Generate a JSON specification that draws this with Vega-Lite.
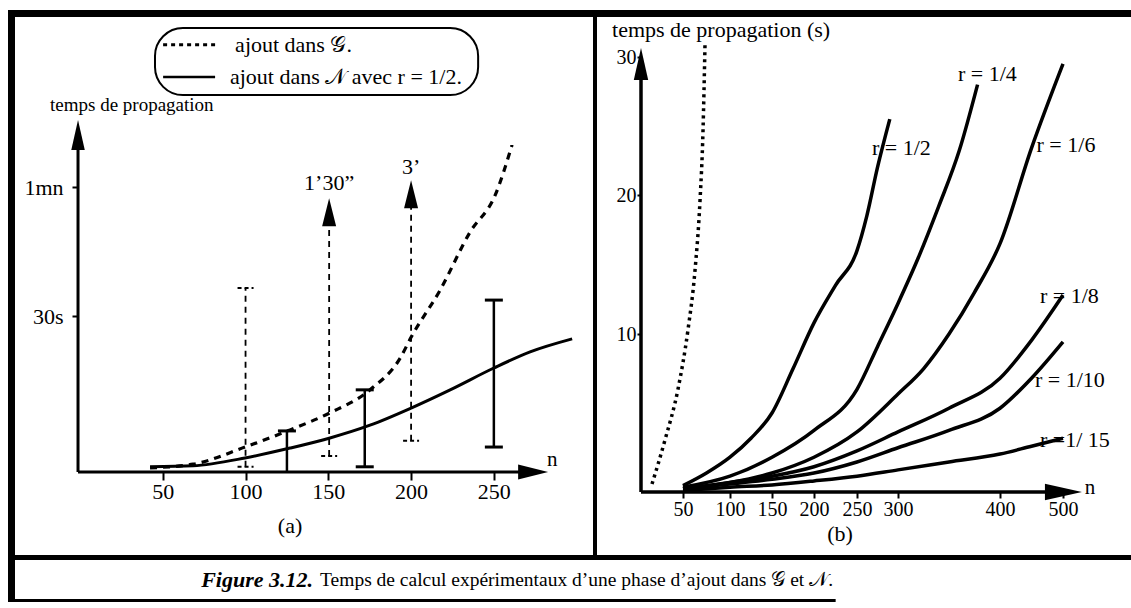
{
"$schema":"https://vega.github.io/schema/vega-lite/v6.json",
"padding":{"left":8,"top":10,"right":0,"bottom":6},
"spacing":0,
"background":"white",
"config":{"view":{"stroke":null},"font":"Liberation Serif","text":{"font":"Liberation Serif","color":"black"},
 "axis":{"grid":false,"domain":false,"labelFont":"Liberation Serif","labelColor":"black","tickColor":"black","title":null,"labelFontSize":20,"tickWidth":2,"labelOverlap":false,"labelFlush":false,"labelBound":false}},
"datasets":{
 "a_G":[{"n":42.3,"s":0.8},{"n":68.3,"s":1.5},{"n":99.7,"s":4.8},{"n":126.9,"s":8.1},{"n":150.5,"s":11.3},{"n":175.2,"s":15.8},{"n":193.4,"s":21.9},{"n":200,"s":25.9},{"n":217.5,"s":36},{"n":235.6,"s":49.5},{"n":250.8,"s":58.1},{"n":261,"s":69.8}],
 "a_N":[{"n":42.3,"s":1},{"n":68.3,"s":1.2},{"n":99.7,"s":2.7},{"n":126.9,"s":4.6},{"n":150.5,"s":6.5},{"n":175.2,"s":9},{"n":200,"s":12.3},{"n":223.6,"s":15.8},{"n":250,"s":20},{"n":271.9,"s":23.1},{"n":297.3,"s":25.6}],
 "a_solidBars":[{"n":125,"lo":0,"hi":7.9},{"n":172,"lo":1,"hi":15.8},{"n":250,"lo":4.8,"hi":33.7}],
 "a_solidCaps":[{"n":125,"v":7.9},{"n":172,"v":1},{"n":172,"v":15.8},{"n":250,"v":4.8},{"n":250,"v":33.7}],
 "a_dashBars":[{"n":100,"lo":1,"hi":36.5},{"n":150.5,"lo":3.1,"hi":50.9},{"n":200,"lo":6,"hi":55.1}],
 "a_dashCaps":[{"n":100,"v":1},{"n":100,"v":36.5},{"n":150.5,"v":3.1},{"n":200,"v":6}],
 "a_arrows":[{"n":150.5,"v":57.4},{"n":200,"v":61.6}],
 "b_G":[{"n":13.1,"s":0.5},{"n":28.6,"s":3.3},{"n":44,"s":6.5},{"n":55.3,"s":10.3},{"n":62.8,"s":14.6},{"n":68.1,"s":19.6},{"n":71.3,"s":24.7},{"n":73.4,"s":30.9}],
 "b_r":[
  {"r":"1/2","n":50,"s":0.4},{"r":"1/2","n":75,"s":1.2},{"r":"1/2","n":100,"s":2.2},{"r":"1/2","n":125,"s":3.4},{"r":"1/2","n":150,"s":5},{"r":"1/2","n":175,"s":7.8},{"r":"1/2","n":200,"s":10.8},{"r":"1/2","n":225,"s":13.5},{"r":"1/2","n":250,"s":16},{"r":"1/2","n":262,"s":18.5},{"r":"1/2","n":275,"s":22},{"r":"1/2","n":290,"s":25.5},
  {"r":"1/4","n":50,"s":0.3},{"r":"1/4","n":100,"s":1.0},{"r":"1/4","n":150,"s":2.2},{"r":"1/4","n":200,"s":3.9},{"r":"1/4","n":250,"s":6.5},{"r":"1/4","n":275,"s":9.2},{"r":"1/4","n":300,"s":12.2},{"r":"1/4","n":320,"s":15.5},{"r":"1/4","n":340,"s":19.2},{"r":"1/4","n":360,"s":23.2},{"r":"1/4","n":378,"s":28},
  {"r":"1/6","n":50,"s":0.2},{"r":"1/6","n":100,"s":0.6},{"r":"1/6","n":150,"s":1.2},{"r":"1/6","n":200,"s":2.2},{"r":"1/6","n":250,"s":3.8},{"r":"1/6","n":300,"s":6.2},{"r":"1/6","n":325,"s":7.8},{"r":"1/6","n":350,"s":10},{"r":"1/6","n":375,"s":13},{"r":"1/6","n":400,"s":16.5},{"r":"1/6","n":450,"s":23.4},{"r":"1/6","n":500,"s":29.5},
  {"r":"1/8","n":50,"s":0.2},{"r":"1/8","n":100,"s":0.6},{"r":"1/8","n":150,"s":1.0},{"r":"1/8","n":200,"s":1.6},{"r":"1/8","n":250,"s":2.6},{"r":"1/8","n":300,"s":3.8},{"r":"1/8","n":350,"s":5.3},{"r":"1/8","n":400,"s":7.2},{"r":"1/8","n":450,"s":9.6},{"r":"1/8","n":500,"s":12.8},
  {"r":"1/10","n":50,"s":0.2},{"r":"1/10","n":100,"s":0.5},{"r":"1/10","n":150,"s":0.8},{"r":"1/10","n":200,"s":1.2},{"r":"1/10","n":250,"s":1.9},{"r":"1/10","n":300,"s":2.8},{"r":"1/10","n":350,"s":3.9},{"r":"1/10","n":400,"s":5.3},{"r":"1/10","n":450,"s":7.2},{"r":"1/10","n":500,"s":9.5},
  {"r":"1/15","n":50,"s":0.1},{"r":"1/15","n":100,"s":0.3},{"r":"1/15","n":150,"s":0.45},{"r":"1/15","n":200,"s":0.7},{"r":"1/15","n":250,"s":1.0},{"r":"1/15","n":300,"s":1.4},{"r":"1/15","n":350,"s":1.9},{"r":"1/15","n":400,"s":2.4},{"r":"1/15","n":450,"s":2.9},{"r":"1/15","n":500,"s":3.4}
 ],
 "b_labels":[{"t":"r = 1/2","n":268.3,"s":23.4},{"t":"r = 1/4","n":358.8,"s":28.8},{"t":"r = 1/6","n":458,"s":23.6},{"t":"r = 1/8","n":463.5,"s":12.7},{"t":"r = 1/10","n":455.6,"s":7.1},{"t":"r =1/ 15","n":463.5,"s":3.3}]
},
"vconcat":[
 {"spacing":0,"hconcat":[
  {"width":587,"height":548,
   "layer":[
    {"data":{"name":"a_N"},"mark":{"type":"line","stroke":"black","strokeWidth":3,"interpolate":"monotone"},
     "encoding":{
      "x":{"field":"n","type":"quantitative","scale":{"domain":[-43.5,311.1],"nice":false,"zero":false},
           "axis":{"values":[50,100,150,200,250],"orient":"bottom","offset":-86,"tickSize":8,"labelPadding":1,"labelFontSize":22}},
      "y":{"field":"s","type":"quantitative","scale":{"domain":[-16.54,0,30,60,101.2],"range":[548,462,306,177,0],"nice":false,"zero":false},
           "axis":{"values":[30,60],"orient":"left","offset":-70,"tickSize":6,"labelPadding":9,"labelFontSize":22,"labelExpr":"datum.value == 30 ? '30s' : '1mn'"}}}},
    {"data":{"name":"a_G"},"mark":{"type":"line","stroke":"black","strokeWidth":3.2,"strokeDash":[7,6],"interpolate":"monotone"},
     "encoding":{"x":{"field":"n","type":"quantitative"},"y":{"field":"s","type":"quantitative"}}},
    {"data":{"name":"a_solidBars"},"mark":{"type":"rule","stroke":"black","strokeWidth":2.5},
     "encoding":{"x":{"field":"n","type":"quantitative"},"y":{"field":"lo","type":"quantitative"},"y2":{"field":"hi"}}},
    {"data":{"name":"a_solidCaps"},"mark":{"type":"point","shape":"stroke","size":324,"stroke":"black","strokeWidth":3,"filled":false,"opacity":1},
     "encoding":{"x":{"field":"n","type":"quantitative"},"y":{"field":"v","type":"quantitative"}}},
    {"data":{"name":"a_dashBars"},"mark":{"type":"rule","stroke":"black","strokeWidth":1.8,"strokeDash":[6,5]},
     "encoding":{"x":{"field":"n","type":"quantitative"},"y":{"field":"lo","type":"quantitative"},"y2":{"field":"hi"}}},
    {"data":{"name":"a_dashCaps"},"mark":{"type":"point","shape":"stroke","size":256,"stroke":"black","strokeWidth":2,"strokeDash":[4,3],"filled":false,"opacity":1},
     "encoding":{"x":{"field":"n","type":"quantitative"},"y":{"field":"v","type":"quantitative"}}},
    {"data":{"name":"a_arrows"},"mark":{"type":"point","shape":"M0,0L-0.5,2L0.5,2Z","size":784,"fill":"black","filled":true,"strokeWidth":0,"opacity":1},
     "encoding":{"x":{"field":"n","type":"quantitative"},"y":{"field":"v","type":"quantitative"}}},
    {"data":{"values":[{}]},"mark":{"type":"rule","stroke":"black","strokeWidth":14,"clip":true},"encoding":{"x":{"datum":-43.5}}},
    {"data":{"values":[{}]},"mark":{"type":"rule","stroke":"black","strokeWidth":14,"clip":true},"encoding":{"y":{"datum":101.2}}},
    {"data":{"values":[{}]},"mark":{"type":"rule","stroke":"black","strokeWidth":4,"clip":true},"encoding":{"x":{"datum":311.1}}},
    {"data":{"values":[{}]},"mark":{"type":"rule","stroke":"black","strokeWidth":6,"clip":true},"encoding":{"y":{"datum":-16.54}}},
    {"data":{"values":[{}]},"mark":{"type":"rule","stroke":"black","strokeWidth":3},"encoding":{"x":{"datum":-1.2},"y":{"datum":0},"x2":{"datum":266}}},
    {"data":{"values":[{}]},"mark":{"type":"point","shape":"M0,0L-2,-0.5L-2,0.5Z","size":900,"fill":"black","filled":true,"strokeWidth":0,"opacity":1},"encoding":{"x":{"datum":282.8},"y":{"datum":0}}},
    {"data":{"values":[{}]},"mark":{"type":"rule","stroke":"black","strokeWidth":3},"encoding":{"x":{"datum":-1.2},"y":{"datum":0},"y2":{"datum":70}}},
    {"data":{"values":[{}]},"mark":{"type":"point","shape":"M0,0L-0.45,2L0.45,2Z","size":900,"fill":"black","filled":true,"strokeWidth":0,"opacity":1},"encoding":{"x":{"datum":-1.2},"y":{"datum":75.6}}},
    {"data":{"values":[{}]},"mark":{"type":"rect","cornerRadius":28,"filled":false,"stroke":"black","strokeWidth":2},"encoding":{"x":{"datum":45.3},"x2":{"datum":240.5},"y":{"datum":97},"y2":{"datum":81.4}}},
    {"data":{"values":[{}]},"mark":{"type":"rule","stroke":"black","strokeWidth":3,"strokeDash":[4,4]},"encoding":{"x":{"datum":50.2},"x2":{"datum":81.6},"y":{"datum":93.1}}},
    {"data":{"values":[{}]},"mark":{"type":"rule","stroke":"black","strokeWidth":2.5},"encoding":{"x":{"datum":50.2},"x2":{"datum":81.6},"y":{"datum":85.6}}},
    {"data":{"values":[{}]},"mark":{"type":"text","text":"ajout dans 𝒢.","align":"left","baseline":"middle","fontSize":22},"encoding":{"x":{"datum":93.7},"y":{"datum":93.1}}},
    {"data":{"values":[{}]},"mark":{"type":"text","text":"ajout dans 𝒩 avec r = 1/2.","align":"left","baseline":"middle","fontSize":22},"encoding":{"x":{"datum":90.6},"y":{"datum":85.6}}},
    {"data":{"values":[{}]},"mark":{"type":"text","text":"temps de propagation","align":"left","baseline":"middle","fontSize":19},"encoding":{"x":{"datum":-18.1},"y":{"datum":79.1}}},
    {"data":{"values":[{}]},"mark":{"type":"text","text":"1’30”","align":"center","baseline":"middle","fontSize":22},"encoding":{"x":{"datum":150.5},"y":{"datum":61}}},
    {"data":{"values":[{}]},"mark":{"type":"text","text":"3’","align":"center","baseline":"middle","fontSize":22},"encoding":{"x":{"datum":200},"y":{"datum":64.6}}},
    {"data":{"values":[{}]},"mark":{"type":"text","text":"n","align":"center","baseline":"middle","fontSize":21},"encoding":{"x":{"datum":285.3},"y":{"datum":2.3}}},
    {"data":{"values":[{}]},"mark":{"type":"text","text":"(a)","align":"center","baseline":"middle","fontSize":22},"encoding":{"x":{"datum":126.9},"y":{"datum":-10.4}}}
   ]},
  {"width":536,"height":548,
   "layer":[
    {"data":{"name":"b_r"},"mark":{"type":"line","stroke":"black","strokeWidth":3.5,"interpolate":"monotone"},
     "encoding":{
      "x":{"field":"n","type":"quantitative","scale":{"domain":[-54.76,0,50,100,150,200,250,300,400,500,607.9],"range":[0,46,88,135,177,219,262,303,405,468,536],"nice":false,"zero":false},
           "axis":{"values":[50,100,150,200,250,300,400,500],"orient":"bottom","offset":-66,"tickSize":6,"labelPadding":1}},
      "y":{"field":"s","type":"quantitative","scale":{"domain":[-4.18,0,10,20,30,33.41],"range":[548,482,324,185,47,0],"nice":false,"zero":false},
           "axis":{"values":[10,20,30],"orient":"left","offset":-46,"tickSize":4,"labelPadding":1}},
      "detail":{"field":"r","type":"nominal"}}},
    {"data":{"name":"b_G"},"mark":{"type":"line","stroke":"black","strokeWidth":3.5,"strokeDash":[3,4],"interpolate":"monotone"},
     "encoding":{"x":{"field":"n","type":"quantitative"},"y":{"field":"s","type":"quantitative"}}},
    {"data":{"name":"b_labels"},"mark":{"type":"text","align":"left","baseline":"middle","fontSize":22},
     "encoding":{"x":{"field":"n","type":"quantitative"},"y":{"field":"s","type":"quantitative"},"text":{"field":"t"}}},
    {"data":{"values":[{}]},"mark":{"type":"rule","stroke":"black","strokeWidth":14,"clip":true},"encoding":{"y":{"datum":33.41}}},
    {"data":{"values":[{}]},"mark":{"type":"rule","stroke":"black","strokeWidth":4,"clip":true},"encoding":{"x":{"datum":-54.76}}},
    {"data":{"values":[{}]},"mark":{"type":"rule","stroke":"black","strokeWidth":6,"clip":true},"encoding":{"y":{"datum":-4.18}}},
    {"data":{"values":[{}]},"mark":{"type":"rule","stroke":"black","strokeWidth":3.5},"encoding":{"x":{"datum":0},"y":{"datum":0},"y2":{"datum":28.6}}},
    {"data":{"values":[{}]},"mark":{"type":"point","shape":"M0,0L-0.45,2L0.45,2Z","size":1024,"fill":"black","filled":true,"strokeWidth":0,"opacity":1},"encoding":{"x":{"datum":0},"y":{"datum":30.65}}},
    {"data":{"values":[{}]},"mark":{"type":"rule","stroke":"black","strokeWidth":3.5},"encoding":{"x":{"datum":0},"y":{"datum":0},"x2":{"datum":475}}},
    {"data":{"values":[{}]},"mark":{"type":"point","shape":"M0,0L-2,-0.45L-2,0.45Z","size":1369,"fill":"black","filled":true,"strokeWidth":0,"opacity":1},"encoding":{"x":{"datum":530},"y":{"datum":0}}},
    {"data":{"values":[{}]},"mark":{"type":"text","text":"temps de propagation (s)","align":"left","baseline":"middle","fontSize":22},"encoding":{"x":{"datum":-34.5},"y":{"datum":31.96}}},
    {"data":{"values":[{}]},"mark":{"type":"text","text":"n","align":"center","baseline":"middle","fontSize":21},"encoding":{"x":{"datum":542.8},"y":{"datum":0.25}}},
    {"data":{"values":[{}]},"mark":{"type":"text","text":"(b)","align":"center","baseline":"middle","fontSize":22},"encoding":{"x":{"datum":230.2},"y":{"datum":-2.65}}}
   ]}
 ]},
 {"width":1123,"height":44,
  "layer":[
   {"data":{"values":[{}]},"mark":{"type":"rule","stroke":"black","strokeWidth":4,"clip":true},
    "encoding":{"y":{"datum":1,"scale":{"domain":[0,1],"nice":false,"zero":false},"axis":null}}},
   {"data":{"values":[{}]},"mark":{"type":"rule","stroke":"black","strokeWidth":14,"clip":true},
    "encoding":{"x":{"datum":0,"scale":{"domain":[0,1],"nice":false,"zero":false},"axis":null}}},
   {"data":{"values":[{}]},"mark":{"type":"rule","stroke":"black","strokeWidth":6,"clip":true},
    "encoding":{"x":{"datum":0},"x2":{"datum":0.737},"y":{"datum":0}}},
   {"data":{"values":[{}]},"mark":{"type":"text","text":"Figure 3.12.","align":"right","baseline":"middle","fontSize":22,"fontStyle":"italic","fontWeight":"bold"},
    "encoding":{"x":{"datum":0.2716},"y":{"datum":0.5}}},
   {"data":{"values":[{}]},"mark":{"type":"text","text":"Temps de calcul expérimentaux d’une phase d’ajout dans 𝒢 et 𝒩.","align":"left","baseline":"middle","fontSize":19.5,"dx":7},
    "encoding":{"x":{"datum":0.2716},"y":{"datum":0.5}}}
  ]}
]
}
